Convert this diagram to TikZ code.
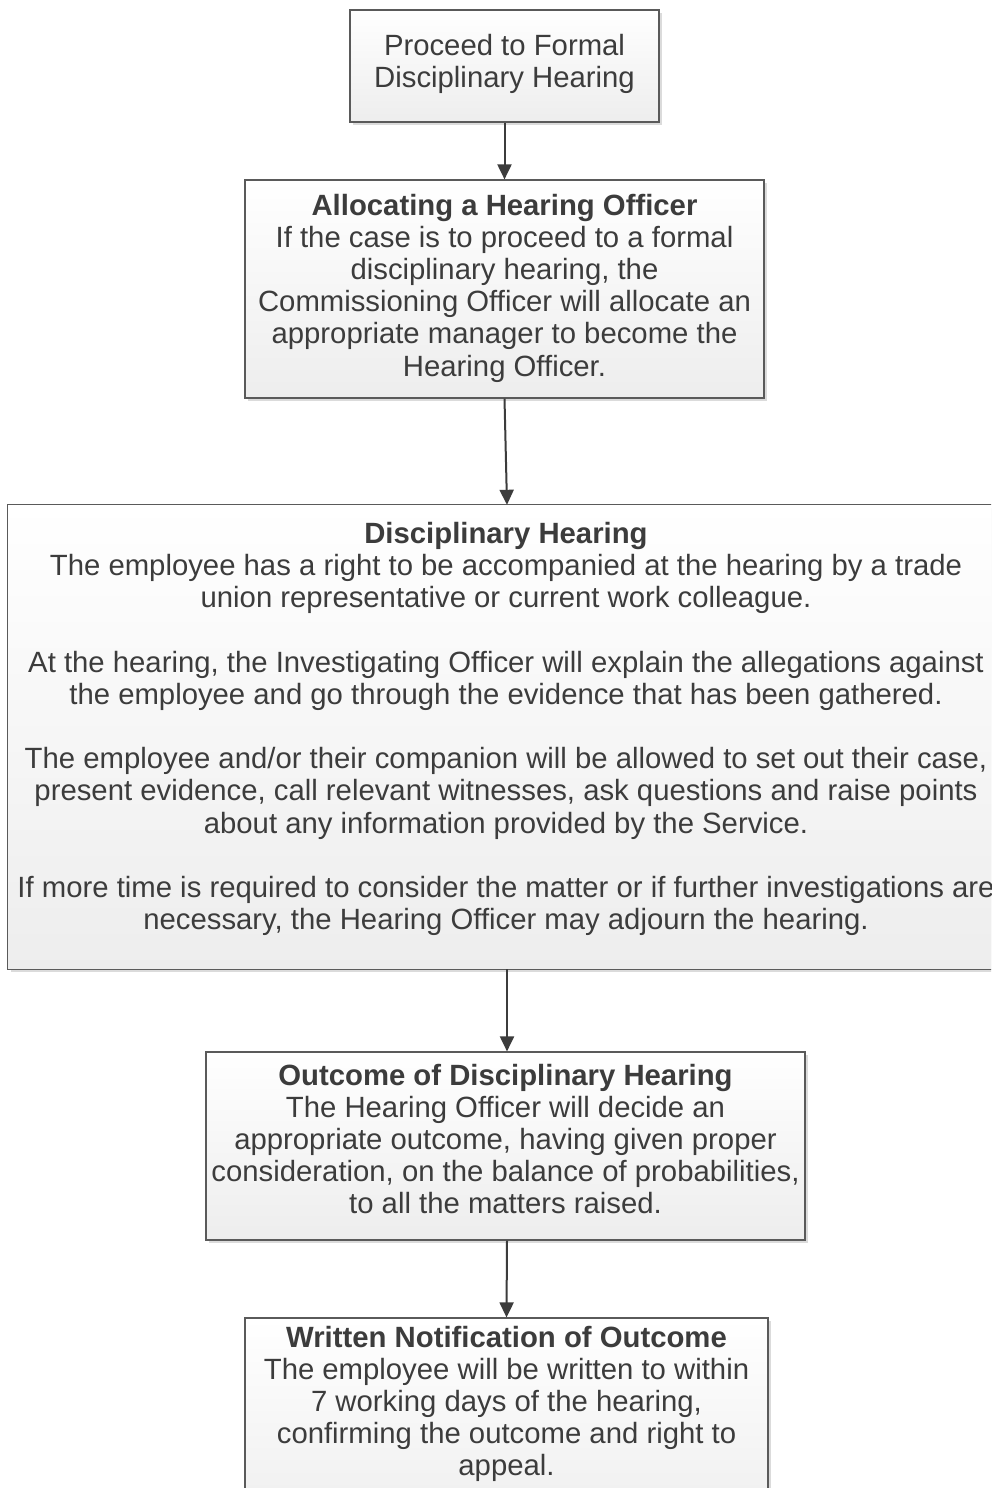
\documentclass[tikz,border=0pt]{standalone}
\usepackage{fontspec}
\setmainfont{Liberation Sans}
\usetikzlibrary{shadows,arrows.meta}
\definecolor{txtc}{HTML}{3C3C3C}
\definecolor{linec}{HTML}{5A5A5A}
\tikzset{
  flowbox/.style={draw=linec, line width=1.2pt, top color=white, bottom color=black!7,
    drop shadow={shadow xshift=3pt, shadow yshift=-3pt, fill=black!14, opacity=1},
    inner sep=0pt},
  openbox/.style={top color=white, bottom color=black!7,
    drop shadow={shadow xshift=3pt, shadow yshift=-3pt, fill=black!14, opacity=1},
    inner sep=0pt},
  edgeline/.style={draw=linec, line width=1.2pt},
  flowtxt/.style={text=txtc, align=center, inner sep=0pt,
    font=\fontsize{29.3}{32.2}\selectfont},
  flowarrow/.style={draw=txtc, line width=2pt, -{Triangle[width=14pt,length=15pt]}},
}
\begin{document}
\begin{tikzpicture}[x=1pt,y=-1pt]
\useasboundingbox (0,0) rectangle (991,1488);
\clip (0,0) rectangle (991,1488);
\fill[white] (0,0) rectangle (991,1488);
% boxes
\node[flowbox, minimum width=309pt, minimum height=112pt] (b1) at (504.5,66) {};
\node[flowbox, minimum width=519pt, minimum height=218pt] (b2) at (504.5,289) {};
\node[openbox, minimum width=1024pt, minimum height=464pt] (b3) at (520,737) {};
\draw[edgeline] (b3.north east) -- (b3.north west) -- (b3.south west) -- (b3.south east);
\node[flowbox, minimum width=599pt, minimum height=188pt] (b4) at (505.5,1146) {};
\node[flowbox, minimum width=523pt, minimum height=220pt] (b5) at (506.5,1428) {};
% texts
\node[flowtxt] (t1) at (504.5,64) {Proceed to Formal\\Disciplinary Hearing};
\node[flowtxt] (t2) at (504.5,288) {\textbf{Allocating a Hearing Officer}\\If the case is to proceed to a formal\\disciplinary hearing, the\\Commissioning Officer will allocate an\\appropriate manager to become the\\Hearing Officer.};
\node[flowtxt] (t3) at (506,729) {\textbf{Disciplinary Hearing}\\The employee has a right to be accompanied at the hearing by a trade\\union representative or current work colleague.\\\mbox{}\\At the hearing, the Investigating Officer will explain the allegations against\\the employee and go through the evidence that has been gathered.\\\mbox{}\\The employee and/or their companion will be allowed to set out their case,\\present evidence, call relevant witnesses, ask questions and raise points\\about any information provided by the Service.\\\mbox{}\\If more time is required to consider the matter or if further investigations are\\necessary, the Hearing Officer may adjourn the hearing.};
\node[flowtxt] (t4) at (505.5,1139) {\textbf{Outcome of Disciplinary Hearing}\\The Hearing Officer will decide an\\appropriate outcome, having given proper\\consideration, on the balance of probabilities,\\to all the matters raised.};
\node[flowtxt] (t5) at (506.5,1404) {\textbf{Written Notification of Outcome}\\The employee will be written to within\\7 working days of the hearing,\\confirming the outcome and right to\\appeal.};
% connectors
\draw[flowarrow] (b1.south) -- (b2.north);
\draw[flowarrow] (b2.south) -- ([xshift=-13pt]b3.north);
\draw[flowarrow] ([xshift=-13pt]b3.south) -- ([xshift=1.5pt]b4.north);
\draw[flowarrow] ([xshift=1.5pt]b4.south) -- (b5.north);
\end{tikzpicture}
\end{document}
